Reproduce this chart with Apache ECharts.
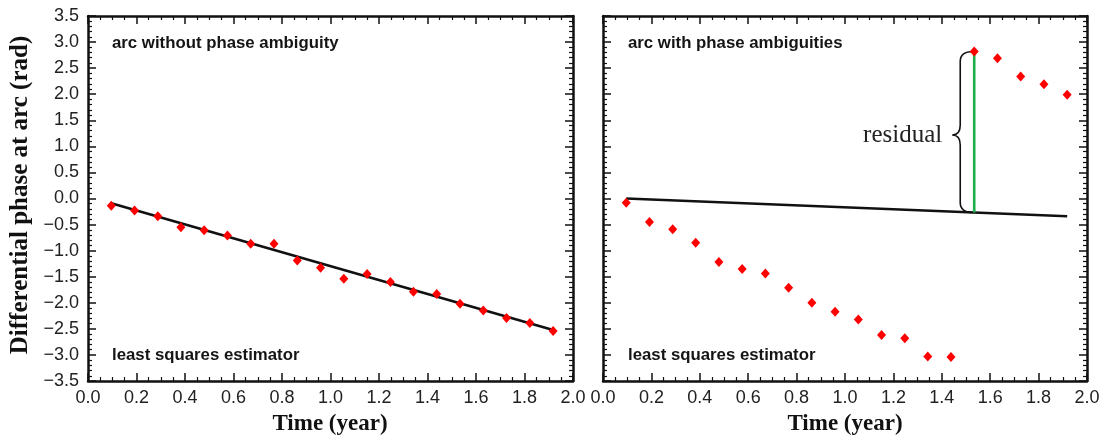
<!DOCTYPE html>
<html>
<head>
<meta charset="utf-8">
<script src="https://cdn.jsdelivr.net/npm/echarts@6/dist/echarts.min.js"></script>
<style>
html,body{margin:0;padding:0;background:#fff;}
#main{width:1107px;height:439px;}
</style>
</head>
<body>
<div id="main"></div>
<script>
// ---- data ----
const times = [0.096,0.192,0.288,0.383,0.479,0.575,0.671,0.767,0.863,0.959,1.055,1.151,1.247,1.342,1.438,1.534,1.630,1.726,1.822,1.918];
const phaseNoAmbiguity = [-0.14,-0.23,-0.34,-0.55,-0.61,-0.71,-0.87,-0.87,-1.19,-1.33,-1.54,-1.45,-1.60,-1.79,-1.83,-2.02,-2.15,-2.29,-2.39,-2.54];
const phaseWithAmbiguity = [-0.08,-0.45,-0.59,-0.85,-1.22,-1.35,-1.44,-1.71,-2.00,-2.17,-2.32,-2.62,-2.68,-3.03,-3.04,2.82,2.69,2.34,2.19,1.99];
const fitLeft = [-0.09,-2.52];   // least squares line at first / last epoch
const fitRight = [0.00,-0.34];
const residualIndex = 15;
const xTicks = {min:0, max:2, interval:0.2};
const yTicks = {min:-3.5, max:3.5, interval:0.5};
const panelTitles = ['arc without phase ambiguity','arc with phase ambiguities'];
const estimatorLabel = 'least squares estimator';
const xTitle = 'Time (year)';
const yTitle = 'Differential phase at arc (rad)';
const residualLabel = 'residual';

// ---- chart ----
const chart = echarts.init(document.getElementById('main'));
const INK = '#111';
const grids = [
  {left:88, top:16, width:485, height:365},
  {left:603, top:16, width:484, height:365}
];
const fmt = v => (v < 0 ? '\u2212' + Math.abs(v).toFixed(1) : v.toFixed(1));

function xAxis(gi, pos, labels){
  return {type:'value', gridIndex:gi, position:pos, min:xTicks.min, max:xTicks.max, interval:xTicks.interval,
    axisLine:{show:true, onZero:false, lineStyle:{color:INK, width:2.5}},
    axisTick:{show:true, inside:true, length:8, lineStyle:{color:INK, width:1.5}},
    minorTick:{show:true, splitNumber:4, length:4, lineStyle:{color:INK, width:1.2}},
    splitLine:{show:false},
    axisLabel:{show:labels, margin:8, color:'#222', fontFamily:'Liberation Sans', fontSize:18, formatter:fmt}};
}
function yAxis(gi, pos, labels){
  return {type:'value', gridIndex:gi, position:pos, min:yTicks.min, max:yTicks.max, interval:yTicks.interval,
    axisLine:{show:true, onZero:false, lineStyle:{color:INK, width:2.5}},
    axisTick:{show:true, inside:true, length:8, lineStyle:{color:INK, width:1.5}},
    minorTick:{show:true, splitNumber:5, length:4, lineStyle:{color:INK, width:1.2}},
    splitLine:{show:false},
    axisLabel:{show:labels, margin:9, color:'#222', fontFamily:'Liberation Sans', fontSize:18, formatter:fmt}};
}

const xAxes = [xAxis(0,'bottom',true), xAxis(0,'top',false), xAxis(1,'bottom',true), xAxis(1,'top',false)];
const yAxes = [yAxis(0,'left',true), yAxis(0,'right',false), yAxis(1,'left',false), yAxis(1,'right',false)];

const pts = (ys) => times.map((t,i)=>[t, ys[i]]);
const fitPts = (f) => [[times[0], f[0]], [times[times.length-1], f[1]]];
const tr = times[residualIndex];
const fitAtResidual = fitRight[0] + (fitRight[1]-fitRight[0])*(tr-times[0])/(times[times.length-1]-times[0]);

const scatterStyle = {type:'scatter', symbol:'diamond', symbolSize:[9,10], itemStyle:{color:'#ff0000', opacity:1}, z:10, silent:true};
const lineStyle = {type:'line', showSymbol:false, symbol:'none', lineStyle:{color:INK, width:2.6}, z:5, silent:true};

const series = [
  Object.assign({}, lineStyle, {xAxisIndex:0, yAxisIndex:0, data:fitPts(fitLeft)}),
  Object.assign({}, scatterStyle, {xAxisIndex:0, yAxisIndex:0, data:pts(phaseNoAmbiguity)}),
  Object.assign({}, lineStyle, {xAxisIndex:2, yAxisIndex:2, data:fitPts(fitRight)}),
  {type:'line', xAxisIndex:2, yAxisIndex:2, showSymbol:false, symbol:'none', z:7, silent:true,
   lineStyle:{color:'#1fae4a', width:2.6}, data:[[tr, phaseWithAmbiguity[residualIndex]],[tr, fitAtResidual]]},
  {type:'custom', xAxisIndex:2, yAxisIndex:2, z:6, silent:true,
   encode:{x:0, y:[1,2]},
   data:[[tr, phaseWithAmbiguity[residualIndex], fitAtResidual]],
   renderItem:function(params, api){
     const top = api.coord([api.value(0), api.value(1)]);
     const bot = api.coord([api.value(0), api.value(2)]);
     const xg = top[0], yt = top[1], yb = bot[1];
     const xs = xg-14, xt = xg-22, ym = (yt+yb)/2 + 3, r = 10;
     const d = `M${xg-1} ${yt} Q${xs} ${yt} ${xs} ${yt+r} L${xs} ${ym-r} Q${xs} ${ym} ${xt} ${ym} Q${xs} ${ym} ${xs} ${ym+r} L${xs} ${yb-r} Q${xs} ${yb} ${xg-1} ${yb}`;
     return {type:'group', children:[
       {type:'path', shape:{pathData:d}, style:{fill:null, stroke:'#111', lineWidth:1.6}},
       {type:'text', x:xt-10, y:ym, style:{text:residualLabel, fill:'#222', font:'25px "Liberation Serif"', align:'right', verticalAlign:'middle'}}
     ]};
   }},
  Object.assign({}, scatterStyle, {xAxisIndex:2, yAxisIndex:2, data:pts(phaseWithAmbiguity)})
];

const sansBold = 'bold 16.8px "Liberation Sans"';
const graphic = [
  {type:'text', x:112, y:43, style:{text:panelTitles[0], font:sansBold, fill:'#151515', align:'left', verticalAlign:'middle'}},
  {type:'text', x:112, y:355, style:{text:estimatorLabel, font:sansBold, fill:'#151515', align:'left', verticalAlign:'middle'}},
  {type:'text', x:628, y:43, style:{text:panelTitles[1], font:sansBold, fill:'#151515', align:'left', verticalAlign:'middle'}},
  {type:'text', x:628, y:355, style:{text:estimatorLabel, font:sansBold, fill:'#151515', align:'left', verticalAlign:'middle'}},
  {type:'text', x:330, y:424, style:{text:xTitle, font:'bold 23px "Liberation Serif"', fill:'#111', align:'center', verticalAlign:'middle'}},
  {type:'text', x:845, y:424, style:{text:xTitle, font:'bold 23px "Liberation Serif"', fill:'#111', align:'center', verticalAlign:'middle'}},
  {type:'text', x:21, y:195, rotation:Math.PI/2, style:{text:yTitle, font:'bold 25px "Liberation Serif"', fill:'#111', align:'center', verticalAlign:'middle'}}
];

chart.setOption({
  animation:false,
  backgroundColor:'#fff',
  grid:grids,
  xAxis:xAxes,
  yAxis:yAxes,
  series:series,
  graphic:graphic
});
</script>
</body>
</html>
